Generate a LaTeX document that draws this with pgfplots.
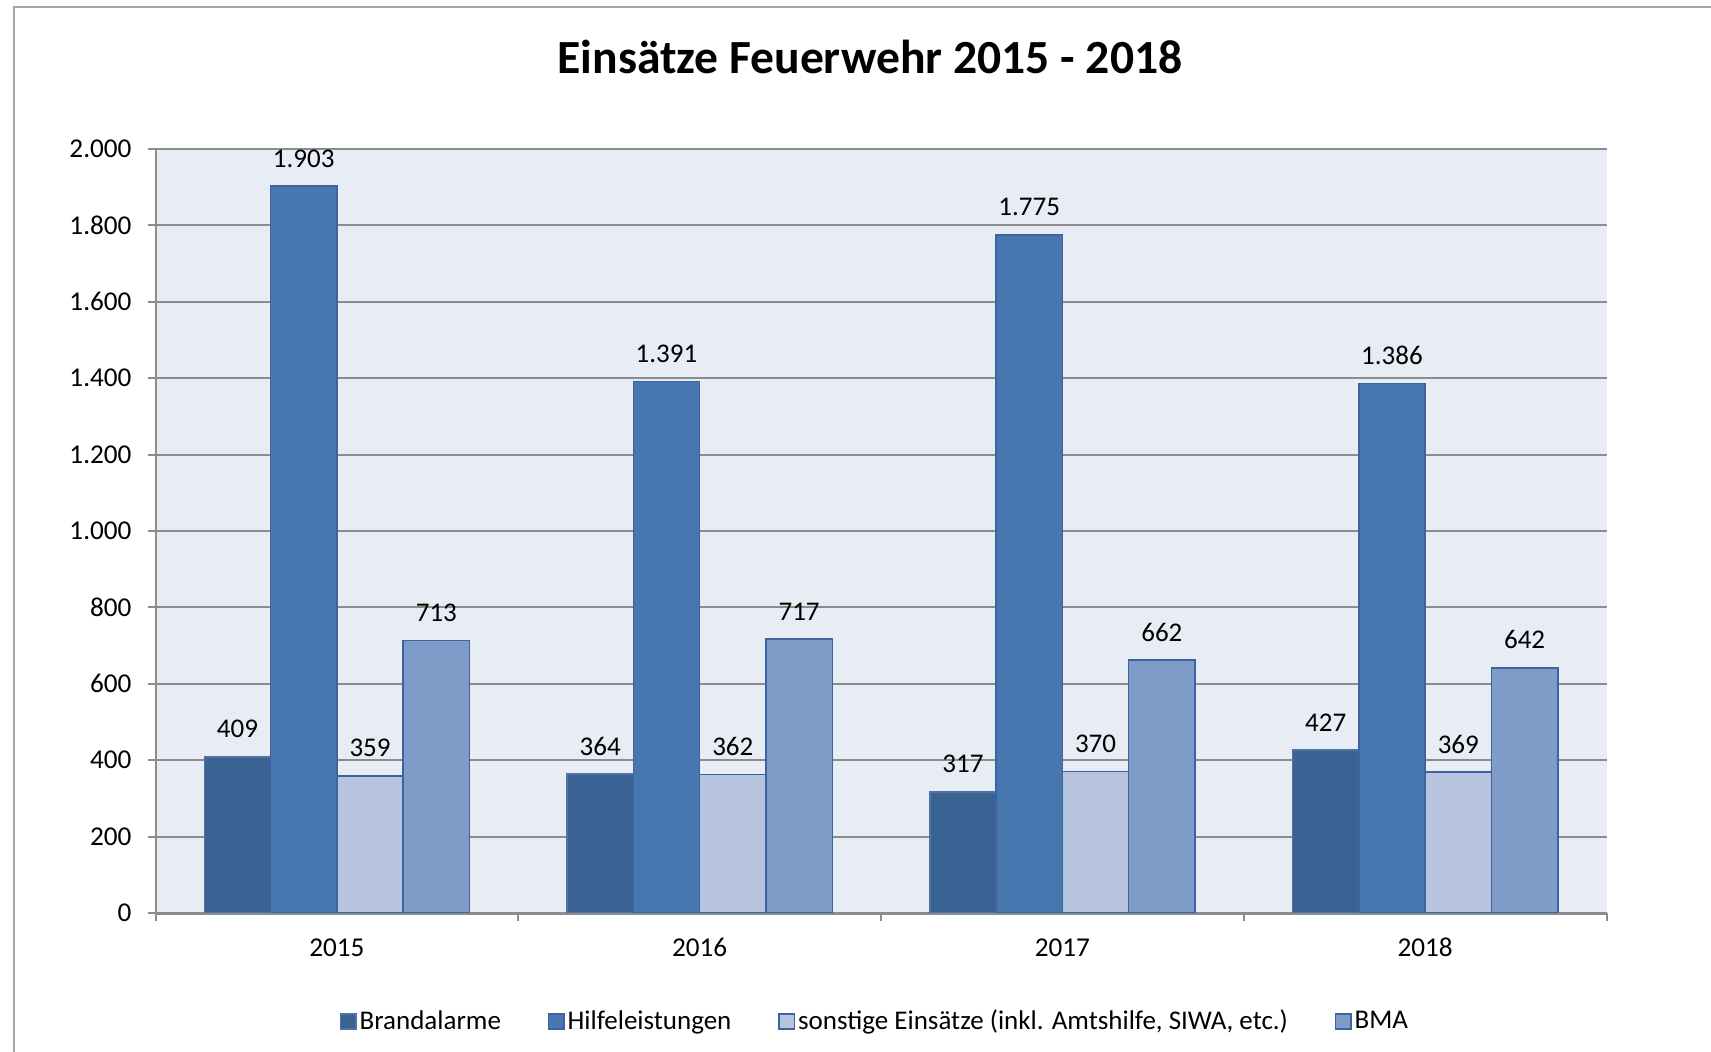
\documentclass[border=0pt]{standalone}
\usepackage{pgfplots}
\pgfplotsset{compat=1.18}
\usepackage{fontspec}
\setmainfont{Carlito}
\definecolor{cBrand}{HTML}{3A6394}
\definecolor{cBrandE}{HTML}{4F73A3}
\definecolor{cHilfe}{HTML}{4877B0}
\definecolor{cSonst}{HTML}{B7C4DF}
\definecolor{cBMA}{HTML}{7F9CC9}
\definecolor{cEdge}{HTML}{3C64A0}
\definecolor{cBg}{HTML}{E8ECF4}
\definecolor{cGrid}{HTML}{8C8C8C}
\definecolor{cFrame}{HTML}{A6A6A6}
\begin{document}
\begin{tikzpicture}
\path[use as bounding box] (0,0) rectangle (855.5bp,526bp);
\draw[cFrame, line width=1bp] (7bp,-5bp) -- (7bp,522.5bp) -- (870bp,522.5bp);
\node[font=\fontsize{23.8bp}{28bp}\selectfont\bfseries] at (435bp,497.5bp) {Einsätze Feuerwehr 2015 - 2018};
\begin{axis}[
  at={(77.75bp,69.5bp)}, anchor=south west,
  scale only axis, width=725.5bp, height=382bp,
  xmin=-0.5, xmax=3.5, ymin=0, ymax=2000,
  /pgf/number format/assume math mode=true,
  /pgf/number format/1000 sep={.},
  ytick={0,200,...,2000},
  xtick={0,1,2,3}, xticklabels={2015,2016,2017,2018},
  minor xtick={-0.5,0.5,1.5,2.5,3.5},
  major x tick style={draw=none},
  tick align=outside,
  major tick length=4bp, minor tick length=4bp,
  tick style={cGrid, line width=1bp},
  ymajorgrids, grid style={cGrid, line width=1bp},
  axis background/.style={fill=cBg},
  axis x line*=bottom, axis y line*=left,
  axis line style={-},
  x axis line style={cGrid, line width=1.5bp},
  y axis line style={cGrid, line width=1bp},
  ticklabel style={font=\fontsize{13.6bp}{16bp}\selectfont, text=black},
  yticklabel style={anchor=east, inner sep=0pt, xshift=-7.8bp},
  xticklabel style={anchor=north, inner sep=0pt, yshift=-8.5bp},
  ybar, bar width=0.1828,
  nodes near coords,
  every node near coord/.append style={font=\fontsize{13.5bp}{16bp}\selectfont, anchor=south, inner sep=0pt, yshift=9bp, text=black},
  legend columns=4,
  legend style={at={(0.4962,-0.142)}, anchor=center, draw=none, fill=none,
    font=\fontsize{13.5bp}{16bp}\selectfont,
    /tikz/every even column/.append style={column sep=22bp},
    inner sep=0pt, nodes={inner sep=1.5bp}},
  legend image code/.code={\draw[#1, line width=0.75bp] (0bp,-3.8bp) rectangle (7.6bp,3.8bp);},
]
\addplot[fill=cBrand, draw=cBrandE, line width=0.75bp, bar shift=-0.2742] coordinates {(0,409) (1,364) (2,317) (3,427)};
\addplot[fill=cHilfe, draw=cEdge, line width=0.75bp, bar shift=-0.0914] coordinates {(0,1903) (1,1391) (2,1775) (3,1386)};
\addplot[fill=cSonst, draw=cEdge, line width=0.75bp, bar shift=0.0914] coordinates {(0,359) (1,362) (2,370) (3,369)};
\addplot[fill=cBMA, draw=cEdge, line width=0.75bp, bar shift=0.2742] coordinates {(0,713) (1,717) (2,662) (3,642)};
\legend{Brandalarme, Hilfeleistungen, {sonstige Einsätze (inkl. Amtshilfe, SIWA, etc.)}, BMA}
\end{axis}
\end{tikzpicture}
\end{document}
